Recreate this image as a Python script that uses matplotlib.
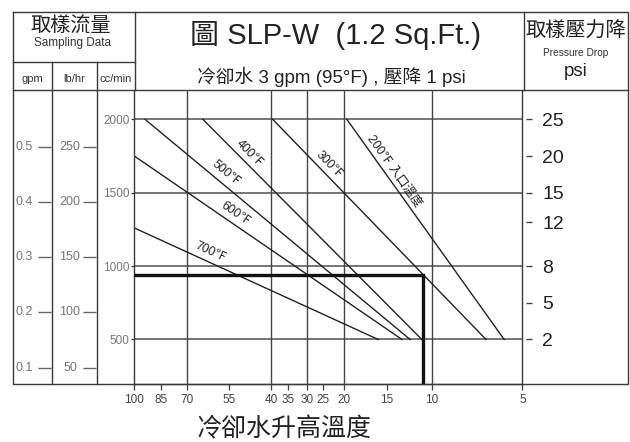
import numpy as np
import matplotlib.pyplot as plt

plt.rcParams['font.family'] = ['Liberation Sans', 'Noto Sans CJK TC', 'DejaVu Sans']

# cooling water temperature rise axis (not uniform on the chart)
rise_ticks = [100, 85, 70, 55, 40, 35, 30, 25, 20, 15, 10, 5]
rise_scale = [0, 26.4, 53, 94.7, 136.7, 154, 172.4, 189, 210, 252.4, 297.4, 388]
rise_grid = [70, 40, 30, 20, 10]

flow_ticks = [500, 1000, 1500, 2000]          # cc/min
gpm_ticks = [0.5, 0.4, 0.3, 0.2, 0.1]
lbhr_ticks = [250, 200, 150, 100, 50]
psi_ticks = [25, 20, 15, 12, 8, 5, 2]
psi_flow = [2000, 1750, 1500, 1300, 1000, 750, 500]

# inlet temperature lines
inlet = ['200℉ 入口溫度', '300℉', '400℉', '500℉', '600℉', '700℉']
rise_start = [19.7, 39.5, 64.4, 93.9, 100, 100]
flow_start = [2000, 2000, 2000, 2000, 1750, 1260]
rise_end = [6.0, 7.0, 11.1, 12.4, 13.3, 16.0]
flow_end = [500, 500, 500, 500, 500, 500]

# example reading (thick line)
ex_flow = 940
ex_rise = 11

# label placement along each line (fraction, offset px)
lab_t = [0.26, 0.235, 0.185, 0.28, 0.357, 0.295]
lab_off = [8.5, 8.5, 9, 10, 9.5, 10]

W, H = 630, 442
fig = plt.figure(figsize=(W / 100, H / 100), dpi=100)
fig.patch.set_facecolor('white')

# frame / header in pixel coordinates
fr = fig.add_axes([0, 0, 1, 1])
fr.set_xlim(0, W)
fr.set_ylim(H, 0)
fr.axis('off')
lc = '#3a3a3a'
fr.plot([13, 628, 628, 13, 13], [12, 12, 383.5, 383.5, 12], color=lc, lw=1)
fr.plot([13, 628], [90, 90], color=lc, lw=1)
fr.plot([135, 135], [12, 90], color=lc, lw=1)
fr.plot([523.5, 523.5], [12, 90], color=lc, lw=1)
fr.plot([13, 135], [62, 62], color=lc, lw=1)
for xd in [52.3, 96.7]:
    fr.plot([xd, xd], [62, 383.5], color=lc, lw=1)

fr.text(71, 26, '取樣流量', ha='center', va='center', fontsize=14.5, color='#222')
fr.text(73, 43, 'Sampling Data', ha='center', va='center', fontsize=8.5, color='#333')
fr.text(32, 79, 'gpm', ha='center', va='center', fontsize=8, color='#333')
fr.text(74, 79, 'lb/hr', ha='center', va='center', fontsize=8, color='#333')
fr.text(116, 79, 'cc/min', ha='center', va='center', fontsize=8, color='#333')

fr.text(336, 35, '圖 SLP-W  (1.2 Sq.Ft.)', ha='center', va='center', fontsize=21, color='#222')
fr.text(331, 77, '冷卻水 3 gpm (95°F) , 壓降 1 psi', ha='center', va='center', fontsize=13.5, color='#222')

fr.text(576, 31, '取樣壓力降', ha='center', va='center', fontsize=14.5, color='#222')
fr.text(576, 53, 'Pressure Drop', ha='center', va='center', fontsize=7.3, color='#333')
fr.text(576, 72, 'psi', ha='center', va='center', fontsize=13.5, color='#222')

fr.text(284, 429, '冷卻水升高溫度', ha='center', va='center', fontsize=18, color='#222')

# main chart
x0, x1, yb, yt = 134.3, 522.3, 383.5, 90
ax = fig.add_axes([x0 / W, (H - yb) / H, (x1 - x0) / W, (yb - yt) / H])
ax.patch.set_alpha(0)

rt_inc = rise_ticks[::-1]
pos_inc = [-p for p in rise_scale][::-1]


def fwd(t):
    return np.interp(t, rt_inc, pos_inc)


def inv(p):
    return np.interp(p, pos_inc, rt_inc)


ax.set_xscale('function', functions=(fwd, inv))
ax.set_xlim(100, 5)
ax.set_ylim(200, 2200)
ax.set_xticks(rise_ticks)
ax.set_xticklabels([str(v) for v in rise_ticks])
ax.xaxis.set_minor_locator(plt.NullLocator())
ax.set_yticks(flow_ticks)
ax.set_yticklabels([str(v) for v in flow_ticks])
ax.tick_params(axis='x', direction='out', length=4.5, width=0.9, pad=3,
               labelsize=8.5, labelcolor='#444', color=lc)
ax.tick_params(axis='y', direction='out', length=2.5, width=0.9, pad=1,
               labelsize=8.5, labelcolor='#777', color=lc)
for s in ['left', 'right', 'bottom']:
    ax.spines[s].set_color(lc)
    ax.spines[s].set_linewidth(1)
ax.spines['top'].set_visible(False)

for f in flow_ticks:
    ax.axhline(f, color='#6a6a6a', lw=1.3, zorder=1)
for r in rise_grid:
    ax.axvline(r, color='#444', lw=1, zorder=1)

for i in range(len(inlet)):
    ax.plot([rise_start[i], rise_end[i]], [flow_start[i], flow_end[i]],
            color='#222', lw=1, zorder=2)

ax.plot([100, ex_rise, ex_rise], [ex_flow, ex_flow, 200], color='#111', lw=2.4,
        zorder=3, solid_joinstyle='miter')

# right psi scale
ax2 = ax.twinx()
ax2.set_ylim(200, 2200)
ax2.set_yticks(psi_flow)
ax2.set_yticklabels([str(p) for p in psi_ticks])
ax2.tick_params(axis='y', length=0, pad=14.5, labelsize=14, labelcolor='#222')
for s in ax2.spines.values():
    s.set_visible(False)
trans = ax2.get_yaxis_transform()
ax2.plot([1.017] * len(psi_flow), psi_flow, ls='', marker='_', ms=4, mew=1,
         color='#444', transform=trans, clip_on=False)

# labels along the lines
fig.canvas.draw()
for i in range(len(inlet)):
    p0 = ax.transData.transform((rise_start[i], flow_start[i]))
    p1 = ax.transData.transform((rise_end[i], flow_end[i]))
    d = p1 - p0
    a = np.arctan2(d[1], d[0])
    n = np.array([-np.sin(a), np.cos(a)])
    p = p0 + lab_t[i] * d + lab_off[i] * n
    xd, yd = ax.transData.inverted().transform(p)
    ax.text(xd, yd, inlet[i], rotation=np.degrees(a), rotation_mode='anchor',
            ha='center', va='center', fontsize=8.8, color='#222')

# left gpm / lb/hr panel
axl = fig.add_axes([13 / W, (H - yb) / H, (x0 - 13) / W, (yb - yt) / H])
axl.patch.set_alpha(0)
axl.set_xlim(13, x0)
axl.set_ylim(0.0714, 0.6026)
axl.axis('off')
axl.hlines(gpm_ticks, 38, 51, color='#666', lw=1)
axl.hlines(gpm_ticks, 83, 96, color='#666', lw=1)
for g, lb in zip(gpm_ticks, lbhr_ticks):
    axl.text(15, g, str(g), ha='left', va='center', fontsize=9, color='#777')
    axl.text(70, g, str(lb), ha='center', va='center', fontsize=9, color='#777')

fig.savefig('out.png', dpi=100)
